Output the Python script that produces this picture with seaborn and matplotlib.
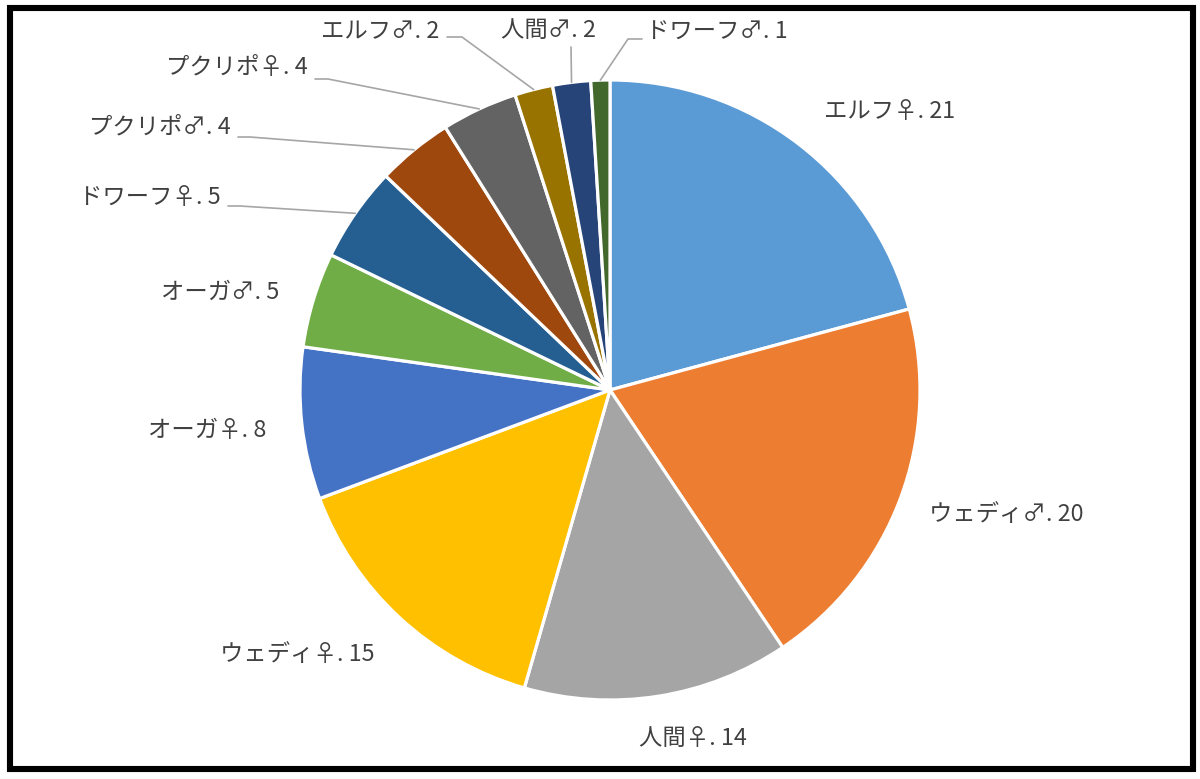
import matplotlib
matplotlib.use("Agg")
import matplotlib.pyplot as plt
import seaborn as sns
import numpy as np
from matplotlib.patches import Rectangle

# データ
categories = ["エルフ♀", "ウェディ♂", "人間♀", "ウェディ♀", "オーガ♀", "オーガ♂",
              "ドワーフ♀", "プクリポ♂", "プクリポ♀", "エルフ♂", "人間♂", "ドワーフ♂"]
counts = [21, 20, 14, 15, 8, 5, 5, 4, 4, 2, 2, 1]
colors = ["#5B9BD5", "#ED7D31", "#A5A5A5", "#FFC000", "#4472C4", "#70AD47",
          "#255E91", "#9E480E", "#636363", "#997300", "#264478", "#43682B"]

# レイアウト (ピクセル単位)
W, H = 1200, 779
CX, CY, R = 610, 390, 310
label_pos = [(890, 112), (1006, 515), (693, 738), (297, 655), (207, 431), (220, 292),
             (150, 198), (160, 127), (237, 68), (380, 32), (548, 30), (717, 32)]
# 引き出し線: ラベル側の始点と折れ点
leaders = {6: ((228, 206), (240, 206)),
           7: ((238, 137), (250, 137)),
           8: ((315, 79), (328, 79)),
           9: ((447, 37), (462, 37)),
           10: ((571, 47), (571, 47)),
           11: ((642, 39), (628, 39))}


def to_data(x, y):
    return (x - CX) / R, (CY - y) / R


sns.set_theme(style="white")
plt.rcParams["font.family"] = ["Noto Sans CJK JP", "DejaVu Sans"]

fig = plt.figure(figsize=(W / 100, H / 100), dpi=100)
ax = fig.add_axes([0, 0, 1, 1])

wedges, _ = ax.pie(counts, colors=colors, startangle=90, counterclock=False,
                   radius=1.0, wedgeprops=dict(edgecolor="white", linewidth=2.3))

ax.set_xlim(-CX / R, (W - CX) / R)
ax.set_ylim(-(H - CY) / R, CY / R)
ax.set_aspect("equal")
ax.axis("off")

for i, (name, val) in enumerate(zip(categories, counts)):
    tx, ty = to_data(*label_pos[i])
    ax.text(tx, ty, f"{name}. {val}", ha="center", va="center",
            fontsize=16.8, color="#404040")
    if i in leaders:
        w = wedges[i]
        mid = np.deg2rad((w.theta1 + w.theta2) / 2)
        ex, ey = np.cos(mid), np.sin(mid)
        s = to_data(*leaders[i][0])
        k = to_data(*leaders[i][1])
        ax.plot([s[0], k[0], ex], [s[1], k[1], ey], color="#A6A6A6", lw=1.2,
                solid_joinstyle="miter")

# 外枠
fig.patches.append(Rectangle((10 / W, (H - 769) / H), 1183 / W, 761 / H,
                             transform=fig.transFigure, fill=False,
                             edgecolor="black", linewidth=4.4))

fig.savefig("out.png", dpi=100)
